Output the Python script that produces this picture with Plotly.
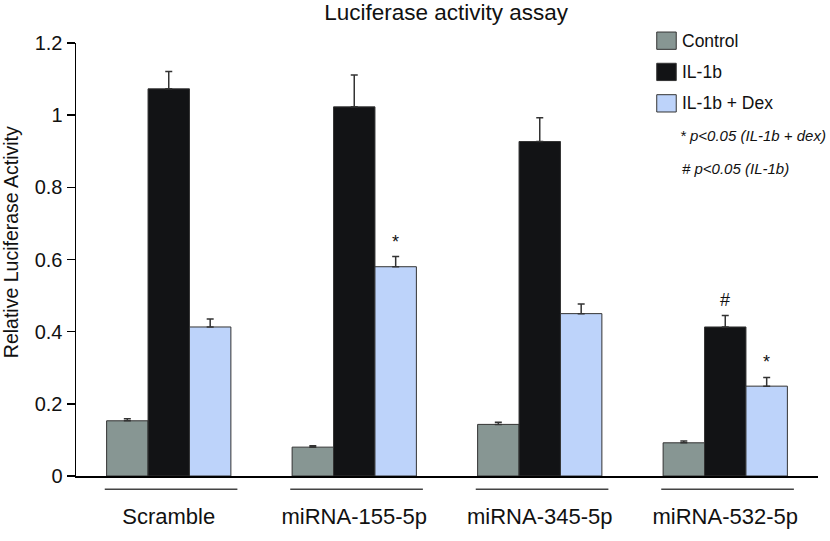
import plotly.graph_objects as go

categories = ["Scramble", "miRNA-155-5p", "miRNA-345-5p", "miRNA-532-5p"]
series_names = ["Control", "IL-1b", "IL-1b + Dex"]
control = [0.153, 0.080, 0.143, 0.092]
control_err = [0.006, 0.004, 0.006, 0.005]
il1b = [1.073, 1.023, 0.927, 0.413]
il1b_err = [0.048, 0.088, 0.066, 0.032]
dex = [0.413, 0.580, 0.450, 0.249]
dex_err = [0.022, 0.028, 0.027, 0.024]
y_ticks = [0, 0.2, 0.4, 0.6, 0.8, 1.0, 1.2]
y_ticklabels = ["0", "0.2", "0.4", "0.6", "0.8", "1", "1.2"]
stars = [("IL-1b + Dex", 1, "*"), ("IL-1b + Dex", 3, "*"), ("IL-1b", 3, "#")]

colors = ["#879693", "#121315", "#bdd3fa"]
values = [control, il1b, dex]
errors = [control_err, il1b_err, dex_err]

W, H = 830, 541
L, R, T, B = 76, 12.3, 42.7, 47.7
pw, ph = W - L - R, H - T - B


def px(x):
    return (x - L) / pw


def py(y):
    return (H - B - y) / ph


FONT = "Liberation Sans, Arial, Helvetica, sans-serif"
fig = go.Figure()
x_idx = list(range(len(categories)))
for name, vals, errs, col in zip(series_names, values, errors, colors):
    fig.add_trace(go.Bar(
        x=x_idx, y=vals, name=name,
        marker=dict(color=col, line=dict(color="#333333", width=1)),
        error_y=dict(type="data", array=errs, arrayminus=[0] * len(errs),
                     symmetric=False, color="#333333", thickness=1.5, width=3.5),
        showlegend=False, hoverinfo="skip",
    ))

bargap = 0.33
bw = (1 - bargap) / 3
for sname, gi, sym in stars:
    si = series_names.index(sname)
    xo = gi + (si - 1) * bw
    yv = values[si][gi] + errors[si][gi]
    fig.add_annotation(x=xo, y=yv, xref="x", yref="y", text=sym, showarrow=False,
                       yanchor="middle", yshift=15,
                       font=dict(family=FONT, size=18, color="#111"))

# group underlines
for i in x_idx:
    fig.add_shape(type="line", xref="x", yref="paper", x0=i - 0.345, x1=i + 0.37,
                  y0=py(507), y1=py(507), line=dict(color="#444", width=1.5))

# legend (manual)
leg_y = [40.3, 72.8, 105.5]
for name, col, yc in zip(series_names, colors, leg_y):
    fig.add_shape(type="rect", xref="paper", yref="paper",
                  x0=px(656.5), x1=px(676), y0=py(yc - 9), y1=py(yc + 9),
                  fillcolor=col, line=dict(color="#333", width=1))
    fig.add_annotation(xref="paper", yref="paper", x=px(680), y=py(yc), text=name,
                       showarrow=False, xanchor="left", yanchor="middle",
                       font=dict(family=FONT, size=17.5, color="#111"))
fig.add_annotation(xref="paper", yref="paper", x=px(679), y=py(139),
                   text="<i>* p&lt;0.05 (IL-1b + dex)</i>", showarrow=False,
                   xanchor="left", yanchor="middle", borderpad=0,
                   font=dict(family=FONT, size=15, color="#111"))
fig.add_annotation(xref="paper", yref="paper", x=px(681), y=py(173),
                   text="<i># p&lt;0.05 (IL-1b)</i>", showarrow=False,
                   xanchor="left", yanchor="middle", borderpad=0,
                   font=dict(family=FONT, size=15, color="#111"))

# y title
fig.add_annotation(xref="paper", yref="paper", x=px(11), y=py(250),
                   text="Relative Luciferase Activity", textangle=-90,
                   showarrow=False, xanchor="center", yanchor="middle",
                   font=dict(family=FONT, size=19.5, color="#111"))

fig.update_layout(
    width=W, height=H,
    margin=dict(l=L, r=R, t=T, b=B, pad=0),
    paper_bgcolor="white", plot_bgcolor="white",
    barmode="group", bargap=bargap, bargroupgap=0,
    title=dict(text="Luciferase activity assay", x=px(446), xref="paper",
               xanchor="center", y=1 - 12 / H, yref="container", yanchor="middle",
               font=dict(family=FONT, size=22.5, color="#111")),
    xaxis=dict(range=[-0.5, 3.5], tickvals=x_idx, ticktext=categories,
               showline=True, linecolor="black", linewidth=1.5, ticks="",
               showgrid=False, zeroline=False, ticklabelstandoff=20,
               tickfont=dict(family=FONT, size=22, color="#111")),
    yaxis=dict(range=[0, 1.2], tickvals=y_ticks, ticktext=y_ticklabels,
               showline=True, linecolor="black", linewidth=1.5, ticks="outside",
               ticklen=8, tickwidth=1.5, tickcolor="black", showgrid=False,
               zeroline=False, tickfont=dict(family=FONT, size=20, color="#111")),
)

fig.write_html(
    "out.html",
    config={"displayModeBar": False, "staticPlot": True},
    post_script="document.body.style.margin='0';document.body.style.overflow='hidden';",
)
